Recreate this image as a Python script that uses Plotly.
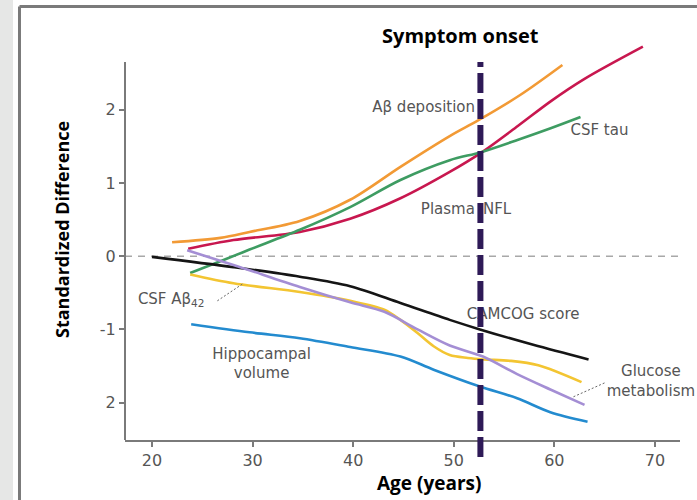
import plotly.graph_objects as go

# ---------------- data ----------------
ab_dep_age = [22.0, 26.8, 29.7, 34.7, 39.7, 44.7, 49.6, 52.5, 56.6, 60.8]
ab_dep_val = [0.19, 0.25, 0.33, 0.48, 0.77, 1.22, 1.64, 1.86, 2.20, 2.61]

nfl_age = [23.6, 28.1, 34.7, 39.7, 44.7, 49.6, 52.7, 56.4, 59.7, 63.0, 68.8]
nfl_val = [0.10, 0.22, 0.33, 0.51, 0.79, 1.15, 1.41, 1.78, 2.12, 2.42, 2.86]

tau_age = [23.8, 26.8, 29.7, 34.7, 39.7, 44.7, 49.6, 52.7, 56.4, 59.7, 62.6]
tau_val = [-0.23, -0.07, 0.09, 0.36, 0.67, 1.04, 1.31, 1.42, 1.59, 1.75, 1.90]

camcog_age = [20.0, 28.1, 34.7, 39.7, 44.7, 49.6, 52.6, 57.9, 63.4]
camcog_val = [-0.01, -0.15, -0.28, -0.41, -0.64, -0.87, -1.00, -1.21, -1.41]

abeta42_age = [23.8, 28.1, 34.7, 39.7, 43.1, 44.7, 46.4, 48.0, 49.6, 51.4, 53.0, 55.7, 58.4, 62.7]
abeta42_val = [-0.25, -0.37, -0.49, -0.61, -0.73, -0.87, -1.05, -1.23, -1.35, -1.39, -1.41, -1.43, -1.49, -1.72]

glucose_age = [23.5, 28.1, 34.7, 39.7, 43.1, 46.4, 49.6, 52.9, 56.3, 59.6, 63.0]
glucose_val = [0.08, -0.12, -0.42, -0.63, -0.76, -1.00, -1.22, -1.37, -1.61, -1.82, -2.03]

hippo_age = [23.9, 29.7, 34.7, 39.7, 44.7, 48.0, 52.6, 56.3, 59.6, 63.3]
hippo_val = [-0.93, -1.04, -1.12, -1.24, -1.37, -1.55, -1.78, -1.94, -2.13, -2.26]

onset_age = 52.65

x_ticks = [20, 30, 40, 50, 60, 70]
y_ticks = [-2, -1, 0, 1, 2]
y_tick_text = ["2", "-1", "0", "1", "2"]
y_axis_top = 2.65   # where the drawn y-axis line ends

series_names = ["Aβ deposition", "Plasma NFL", "CSF tau", "CAMCOG score",
                "CSF Aβ42", "Glucose metabolism", "Hippocampal volume"]
series_colors = ["#F29A35", "#C8174F", "#3E9C62", "#151515",
                 "#F3C532", "#A48ED4", "#238BCF"]

# left-anchored labels (age, value)
label_texts = ["Aβ deposition", "CSF tau", "NFL", "CAMCOG score",
               "CSF Aβ<sub>42</sub>"]
label_age = [41.9, 61.6, 52.9, 51.3, 18.6]
label_val = [2.02, 1.70, 0.63, -0.81, -0.60]

# right-anchored label part ("Plasma" sits left of the onset line)
plasma_label_pos = (52.1, 0.63)

hippo_label_pos = (30.9, -1.48)
glucose_label_pos = (69.6, -1.72)

abeta_leader_age = [26.5, 29.0]
abeta_leader_val = [-0.61, -0.38]
glucose_leader_age = [61.9, 65.0]
glucose_leader_val = [-1.92, -1.73]

# ---------------- figure ----------------
fig = go.Figure()

all_series = [
    (ab_dep_age, ab_dep_val), (nfl_age, nfl_val), (tau_age, tau_val),
    (camcog_age, camcog_val), (abeta42_age, abeta42_val),
    (glucose_age, glucose_val), (hippo_age, hippo_val),
]
for (xs, ys), name, col in zip(all_series, series_names, series_colors):
    fig.add_trace(go.Scatter(
        x=xs, y=ys, mode="lines", name=name,
        line=dict(color=col, width=2.6, shape="spline", smoothing=0.9),
        showlegend=False, hoverinfo="skip"))

label_font = dict(family="DejaVu Sans", size=15, color="#555555")

fig.add_trace(go.Scatter(
    x=label_age, y=label_val, mode="text", text=label_texts,
    textposition="middle right", textfont=label_font,
    showlegend=False, hoverinfo="skip", cliponaxis=False))

fig.add_trace(go.Scatter(
    x=[plasma_label_pos[0]], y=[plasma_label_pos[1]], mode="text",
    text=["Plasma"], textposition="middle left", textfont=label_font,
    showlegend=False, hoverinfo="skip", cliponaxis=False))

fig.add_trace(go.Scatter(
    x=[hippo_label_pos[0]], y=[hippo_label_pos[1]], mode="text",
    text=["Hippocampal<br>volume"], textposition="middle center",
    textfont=label_font, showlegend=False, hoverinfo="skip", cliponaxis=False))

fig.add_trace(go.Scatter(
    x=[glucose_label_pos[0]], y=[glucose_label_pos[1]], mode="text",
    text=["Glucose<br>metabolism"], textposition="middle center",
    textfont=label_font, showlegend=False, hoverinfo="skip", cliponaxis=False))

for lx, ly in [(abeta_leader_age, abeta_leader_val),
               (glucose_leader_age, glucose_leader_val)]:
    fig.add_trace(go.Scatter(
        x=lx, y=ly, mode="lines",
        line=dict(color="#666666", width=1, dash="2px,2px"),
        showlegend=False, hoverinfo="skip"))

# y-axis line (shorter than the plotting area so curves can rise above it)
fig.add_shape(type="line", xref="paper", yref="y", x0=0, x1=0,
              y0=-2.51, y1=y_axis_top,
              line=dict(color="#7A7A7A", width=2), layer="above")

# zero reference line
fig.add_shape(type="line", xref="paper", yref="y", x0=0, x1=1, y0=0, y1=0,
              line=dict(color="#A8A8A8", width=1.5, dash="7px,6px"), layer="below")

# symptom onset line
fig.add_shape(type="line", xref="x", yref="paper", x0=onset_age, x1=onset_age,
              y0=-0.0425, y1=0.945,
              line=dict(color="#2E1A57", width=6, dash="20px,6px"), layer="above")

# outer frame decorations
fig.add_shape(type="rect", xref="paper", yref="paper",
              x0=-0.2252, x1=-0.2018, y0=-0.15, y1=1.1,
              fillcolor="#E6E7E6", line=dict(width=0), layer="above")
fig.add_shape(type="line", xref="paper", yref="paper",
              x0=-0.1901, x1=-0.1901, y0=-0.15, y1=1.08375,
              line=dict(color="#7A7A7A", width=3), layer="above")
fig.add_shape(type="line", xref="paper", yref="paper",
              x0=-0.1901, x1=1.0306, y0=1.08375, y1=1.08375,
              line=dict(color="#7A7A7A", width=3), layer="above")

# titles
fig.add_annotation(text="<b>Symptom onset</b>", xref="paper", yref="paper",
                   x=0.6045, y=1.0125, xanchor="center", yanchor="middle",
                   showarrow=False,
                   font=dict(family="Open Sans", size=20, color="#000000"))
fig.add_annotation(text="<b>Age (years)</b>", xref="paper", yref="paper",
                   x=0.5477, y=-0.1085, xanchor="center", yanchor="middle",
                   showarrow=False,
                   font=dict(family="Open Sans", size=19, color="#000000"))
fig.add_annotation(text="<b>Standardized Difference</b>", xref="paper", yref="paper",
                   x=-0.1135, y=0.525, xanchor="center", yanchor="middle",
                   textangle=-90, showarrow=False,
                   font=dict(family="Open Sans", size=18, color="#000000"))

tick_font = dict(family="DejaVu Sans", size=16, color="#555555")

fig.update_xaxes(range=[17.32, 72.49], tickvals=x_ticks, showgrid=False,
                 zeroline=False, showline=True, linecolor="#7A7A7A", linewidth=2,
                 ticks="outside", ticklen=5, tickwidth=1.5, tickcolor="#7A7A7A",
                 tickfont=tick_font)
fig.update_yaxes(range=[-2.51, 2.951], tickvals=y_ticks, ticktext=y_tick_text,
                 showgrid=False, zeroline=False, showline=False,
                 ticks="outside", ticklen=5, tickwidth=1.5, tickcolor="#7A7A7A",
                 tickfont=tick_font)

fig.update_layout(width=697, height=500, autosize=False,
                  margin=dict(l=125, r=17, t=40, b=60),
                  paper_bgcolor="#FFFFFF", plot_bgcolor="#FFFFFF",
                  showlegend=False)

fig.write_html("out.html", config={"displayModeBar": False},
               post_script="document.body.style.margin='0px';document.body.style.overflow='hidden';")
